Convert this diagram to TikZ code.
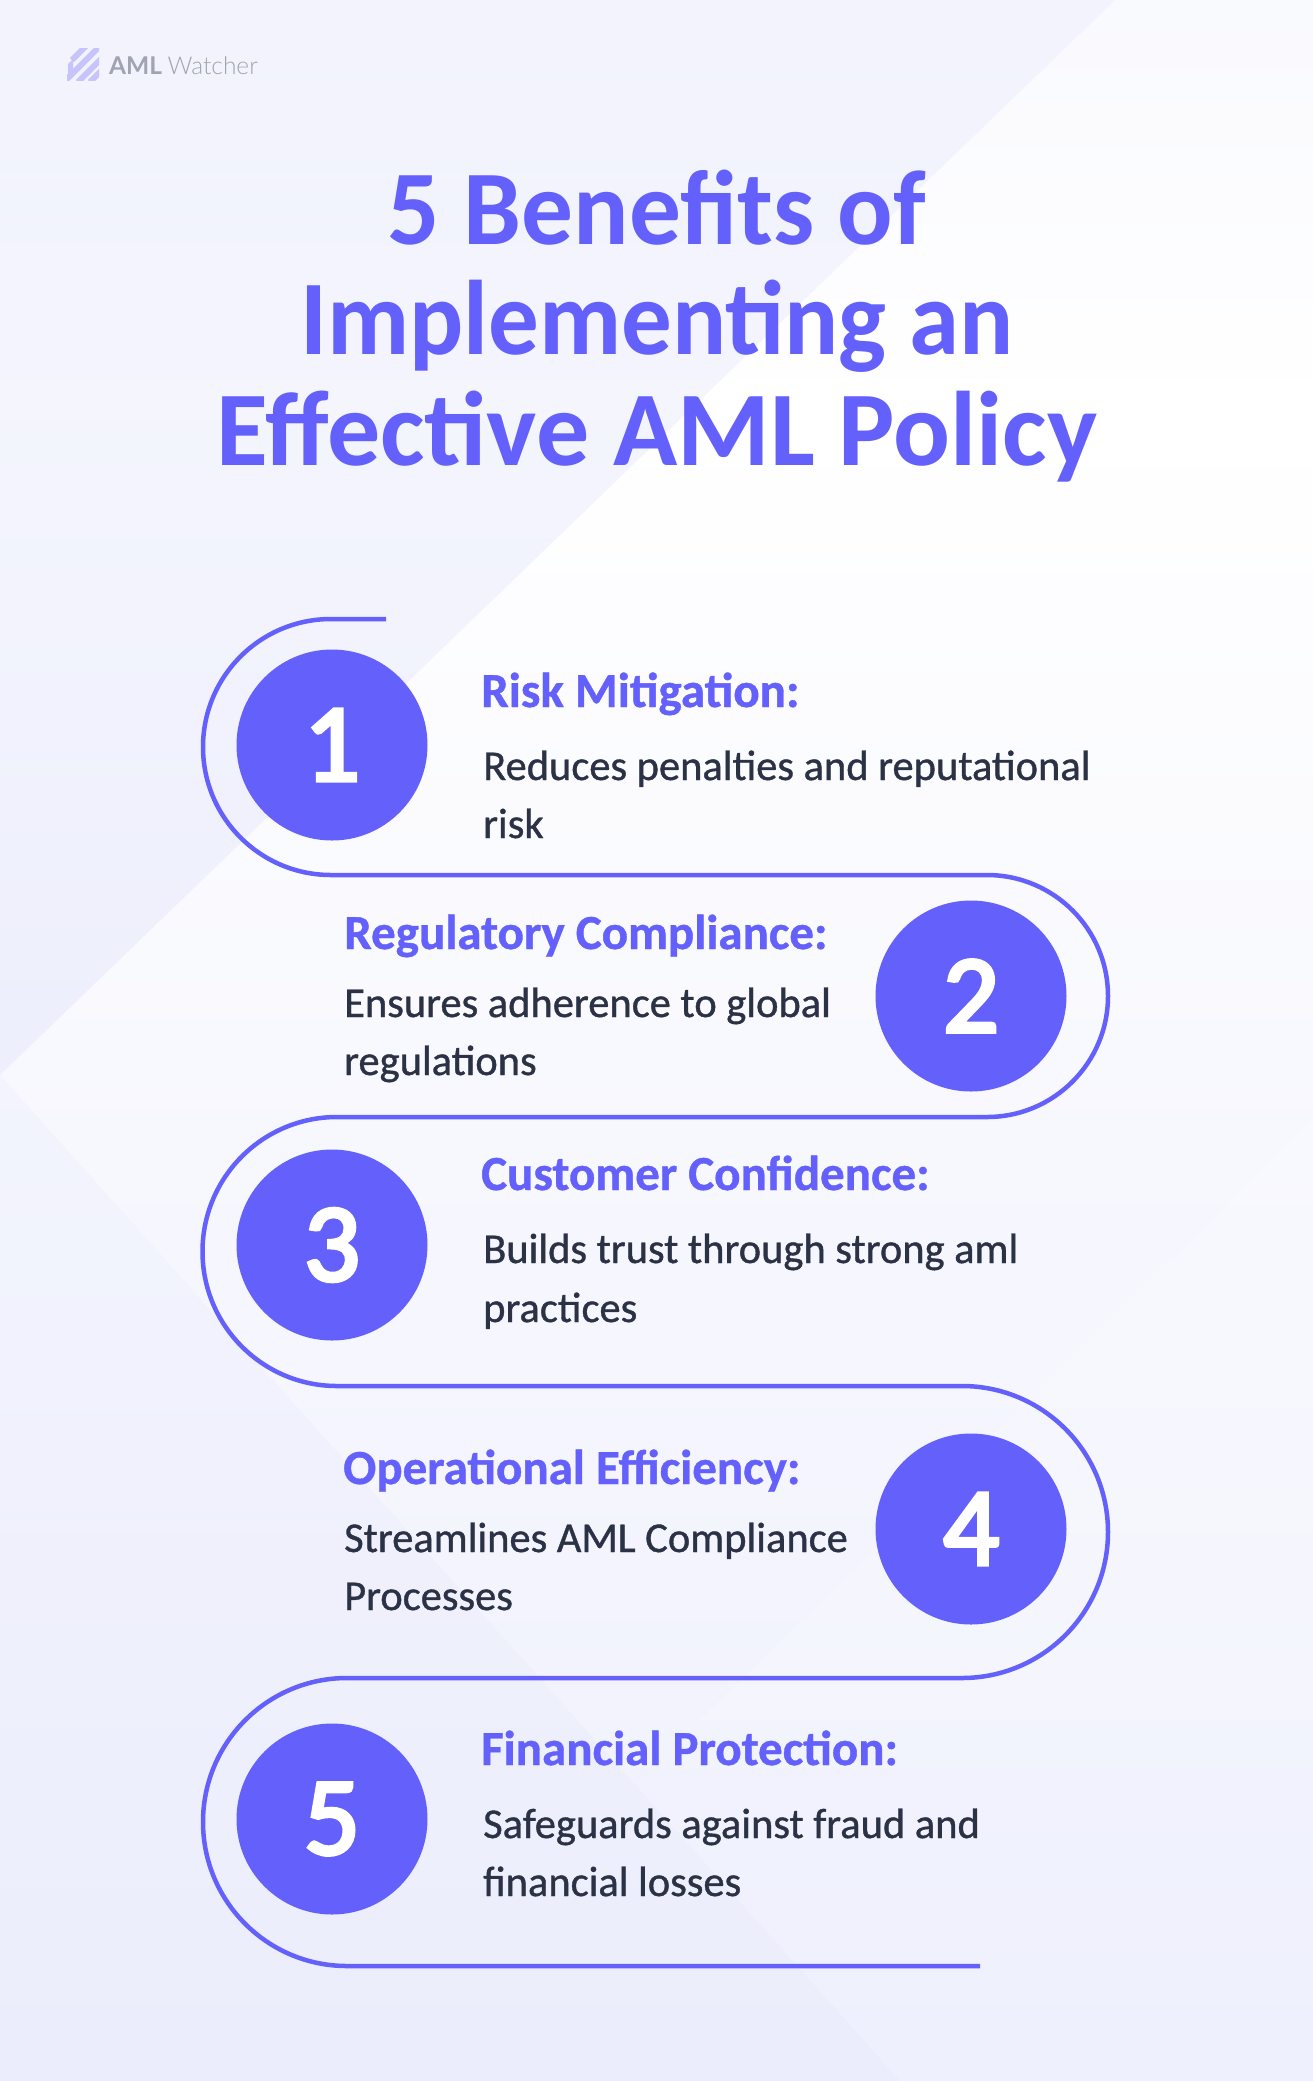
\documentclass[tikz,border=0pt]{standalone}
\usepackage{fontspec}
\setmainfont{Carlito}
\newfontfamily\logofont{Lato}
\newfontfamily\logolight{Lato Light}
\newfontfamily\bodyfont[FakeBold=0.9]{Carlito}
\newfontfamily\numfont[FakeBold=3.5]{Carlito}
\newfontfamily\headfont[FakeBold=0.8]{Carlito Bold}
\newfontfamily\titlewide[FakeStretch=0.975]{Carlito Bold}
\newfontfamily\titlenarrow[FakeStretch=0.953]{Carlito Bold}
\definecolor{amlblue}{HTML}{6460FB}
\definecolor{amlink}{HTML}{2B3245}
\definecolor{amlgrey}{HTML}{9FA3B2}
\definecolor{amllogo}{HTML}{C6C4FB}
\definecolor{bgtint}{HTML}{E1E4FB}
\pgfdeclareverticalshading{amlback}{100bp}{
    color(0bp)=(bgtint);
    color(22bp)=(white!40!bgtint);
    color(45bp)=(white!70!bgtint);
    color(65bp)=(white);
    color(80bp)=(white!70!bgtint);
    color(100bp)=(white!55!bgtint)}
\tikzset{
    numdot/.style={circle, fill=amlblue, text=white, minimum size=191pt, inner sep=0pt, font=\numfont\fontsize{111}{111}\selectfont},
    headtext/.style={anchor=base west, text=amlblue, inner sep=0pt, font=\headfont\fontsize{49}{49}\selectfont},
    bodytext/.style={anchor=base west, text=amlink, inner sep=0pt, font=\bodyfont\fontsize{42.5}{42.5}\selectfont},
    titletext/.style={anchor=base, text=amlblue, inner sep=0pt, font=\fontsize{106}{106}\selectfont\bfseries},
    logobar/.style={amllogo, line width=6pt},
}
\begin{document}
\begin{tikzpicture}[x=1pt, y=-1pt]
    \useasboundingbox (0,0) rectangle (1313,2081);
    \shade[shading=amlback] (0,0) rectangle (1313,2081);
    \shade[top color=white!30!bgtint, bottom color=bgtint, opacity=.45] (0,0) -- (1115,0) -- (0,1075) -- cycle;
    \fill[white, opacity=.2] (1313,1120) -- (700,1720) -- (1313,1720) -- cycle;
    \fill[bgtint, opacity=.2] (0,1075) -- (900,2081) -- (0,2081) -- cycle;

    \begin{scope}
        \clip (67,48) rectangle (99,80);
        \draw[logobar] (92,40) -- (72,60);
        \draw[logobar] (105,41) -- (66,80);
        \draw[logobar] (105,55) -- (78,82);
        \draw[logobar] (105,67) -- (90,82);
    \end{scope}
    \fill[amllogo] (68,64) -- (73,59) -- (73,72) -- (68,77) -- cycle;
    \node[anchor=base west, inner sep=0pt, text=amlgrey, font=\fontsize{24.5}{24.5}\selectfont] (logo) at (109,74) {{\logofont\bfseries AML} {\logolight Watcher}};

    \node[titletext] (title1) at (657,244) {\titlewide 5 Benefits of};
    \node[titletext] (title2) at (657,354) {\titlenarrow Implementing an};
    \node[titletext] (title3) at (657,465) {Effective AML Policy};

    \draw[amlblue, line width=4.5pt] (386,619) -- (331,619) arc[start angle=270, end angle=90, radius=128]
        -- (987,875) arc[start angle=-90, end angle=90, radius=121]
        -- (337,1117) arc[start angle=270, end angle=90, radius=134.5]
        -- (962,1386) arc[start angle=-90, end angle=90, radius=146]
        -- (347,1678) arc[start angle=270, end angle=90, radius=144]
        -- (980,1966);

    \node[numdot] (num1) at (332,745) {1};
    \node[numdot] (num2) at (971,996) {2};
    \node[numdot] (num3) at (332,1245) {3};
    \node[numdot] (num4) at (971,1529) {4};
    \node[numdot] (num5) at (332,1819) {5};

    \node[headtext] (head1) at (481,707) {Risk Mitigation:};
    \node[bodytext] (body1a) at (483,780) {Reduces penalties and reputational};
    \node[bodytext] (body1b) at (483,838) {risk};

    \node[headtext] (head2) at (344,949) {Regulatory Compliance:};
    \node[bodytext] (body2a) at (344,1017) {Ensures adherence to global};
    \node[bodytext] (body2b) at (344,1075) {regulations};

    \node[headtext] (head3) at (481,1190) {Customer Confidence:};
    \node[bodytext] (body3a) at (483,1263) {Builds trust through strong aml};
    \node[bodytext] (body3b) at (483,1322) {practices};

    \node[headtext] (head4) at (343,1484) {Operational Efficiency:};
    \node[bodytext] (body4a) at (344,1552) {Streamlines AML Compliance};
    \node[bodytext] (body4b) at (344,1610) {Processes};

    \node[headtext] (head5) at (481,1765) {Financial Protection:};
    \node[bodytext] (body5a) at (483,1838) {Safeguards against fraud and};
    \node[bodytext] (body5b) at (483,1896) {financial losses};
\end{tikzpicture}
\end{document}
